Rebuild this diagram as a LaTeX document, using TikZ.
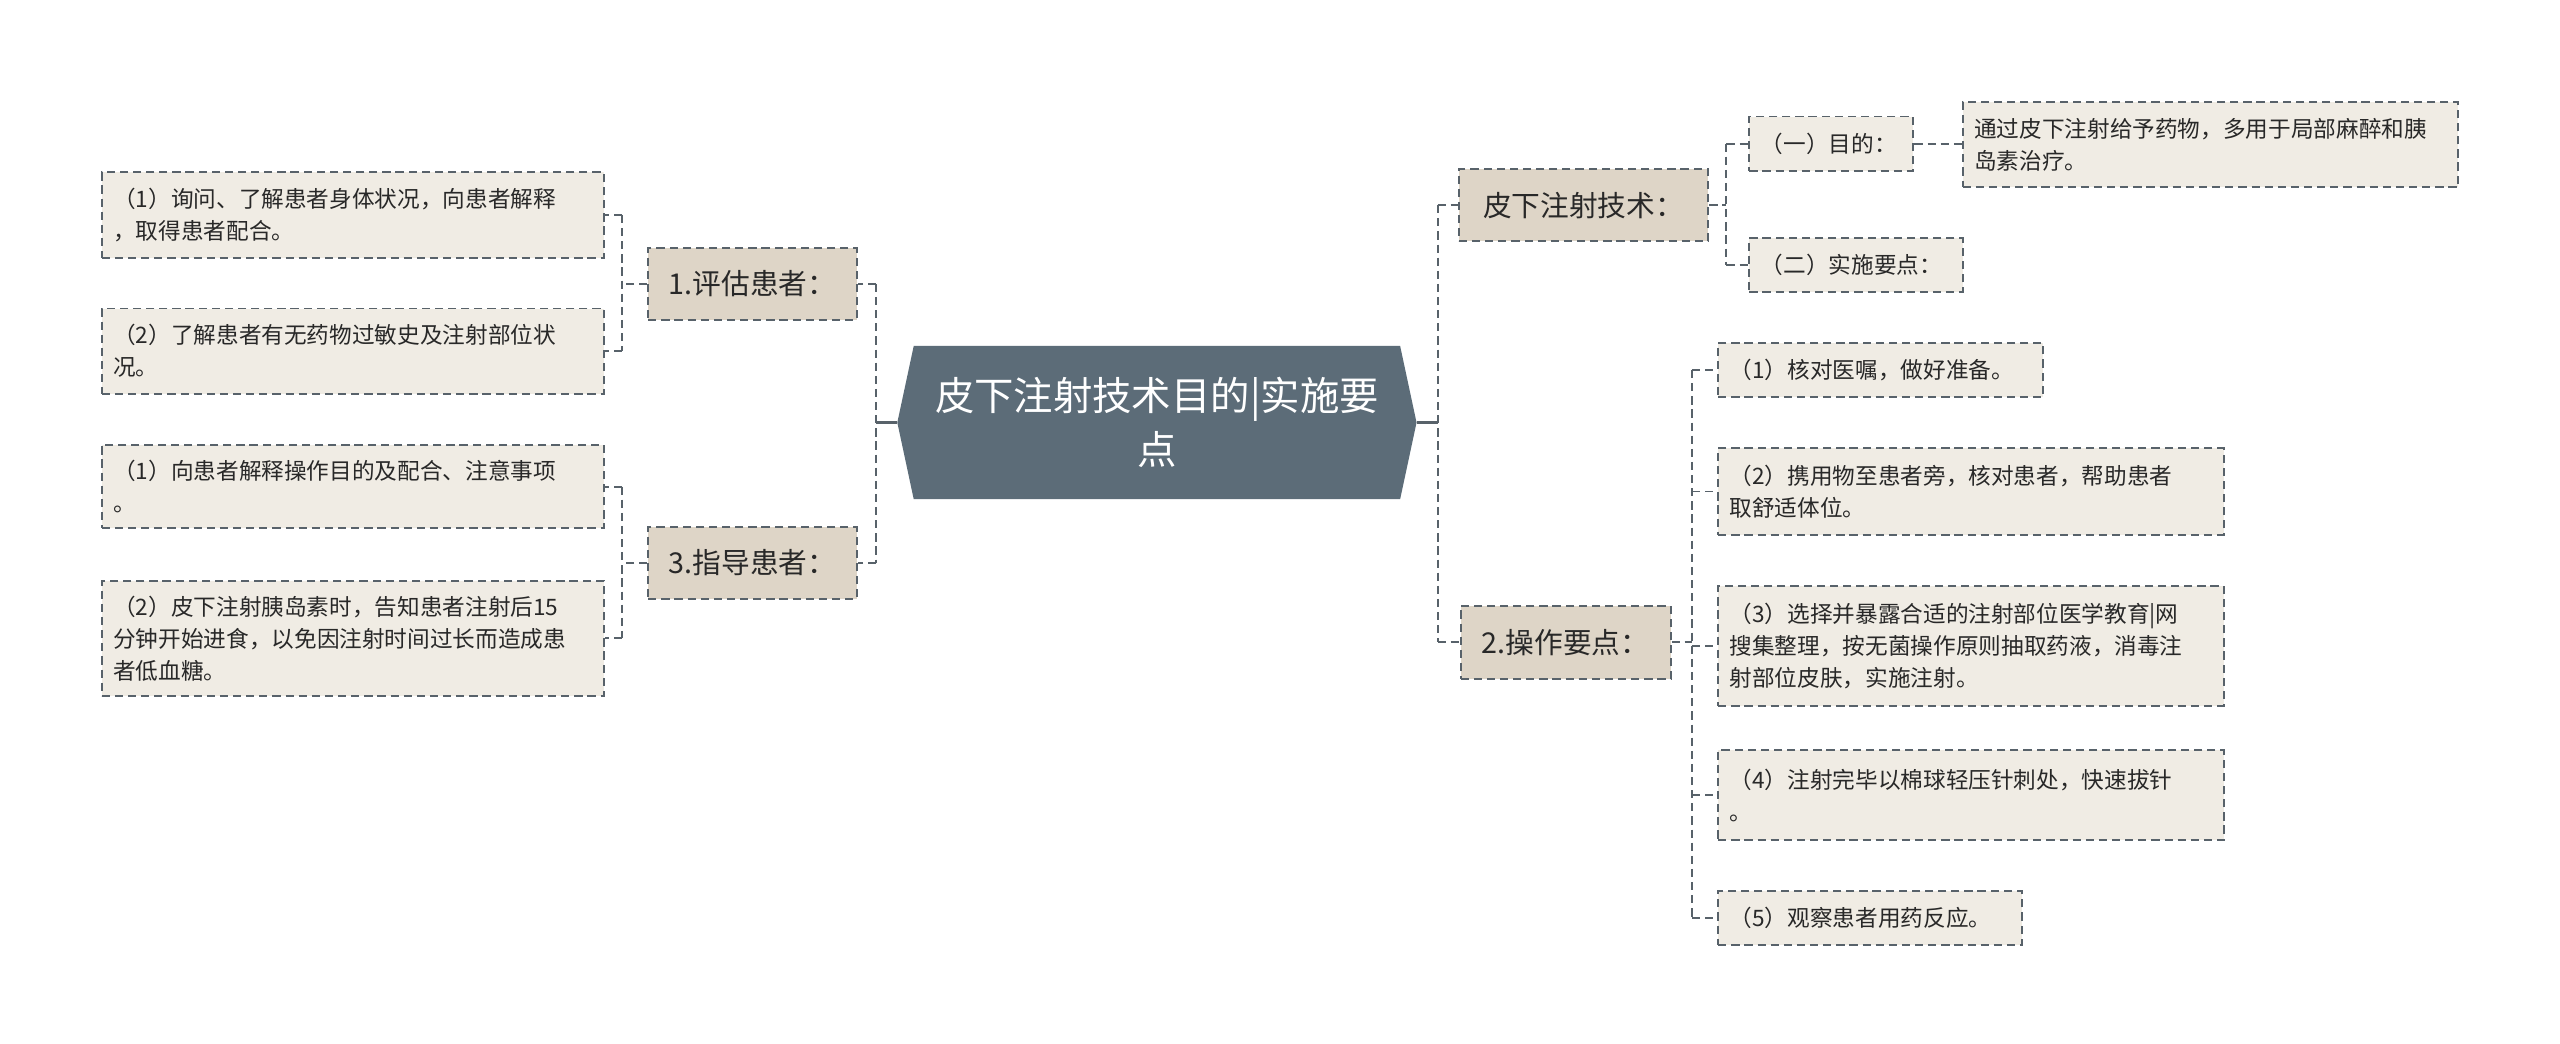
\documentclass[tikz,border=0pt]{standalone}
\usepackage{fontspec}
\setmainfont{Noto Sans CJK SC}
\usetikzlibrary{backgrounds,calc}
\definecolor{maincol}{RGB}{92,108,120}
\definecolor{lvcol}{RGB}{222,213,199}
\definecolor{leafcol}{RGB}{240,236,228}
\definecolor{linecol}{RGB}{88,98,106}
\definecolor{txtcol}{RGB}{40,40,40}
\tikzset{
  base/.style={draw=linecol, line width=1.2pt, dash pattern=on 5pt off 3pt, rectangle, text=txtcol, inner sep=0pt},
  lv/.style={base, fill=lvcol, font=\fontsize{17.5}{22}\selectfont, align=center},
  leaf/.style={base, fill=leafcol, font=\fontsize{13.8}{19.5}\selectfont, align=left, inner xsep=7pt},
  conn/.style={draw=linecol, line width=1.2pt, dash pattern=on 5pt off 3pt},
  trunk/.style={draw=linecol, line width=1.6pt},
  mainbox/.style={rectangle, inner sep=0pt, minimum width=316pt, minimum height=93pt, text=white, align=center, font=\fontsize{24}{33}\selectfont},
}
\begin{document}
\begin{tikzpicture}[x=1pt,y=-1pt]
\useasboundingbox (0,0) rectangle (1560,636);

% main node
\node[mainbox] (main) at (705,257.5) {皮下注射技术目的|实施要\\点};
\begin{pgfonlayer}{background}
\fill[white] (0,0) rectangle (1560,636);
\fill[maincol] ([xshift=10pt]main.north west) -- ([xshift=-10pt]main.north east) -- (main.east)
  -- ([xshift=-10pt]main.south east) -- ([xshift=10pt]main.south west) -- (main.west) -- cycle;
\end{pgfonlayer}

% level-1 nodes
\node[lv, minimum width=152pt, minimum height=44pt] (A) at (965,125) {皮下注射技术：};
\node[lv, minimum width=128pt, minimum height=45pt] (B) at (954,391.5) {2.操作要点：};
\node[lv, minimum width=127pt, minimum height=44pt] (C) at (458.5,173) {1.评估患者：};
\node[lv, minimum width=127pt, minimum height=44pt] (D) at (458.5,343) {3.指导患者：};

% right leaves under A
\node[leaf, text width=86pt, minimum height=33pt] (R1) at (1116,87.5) {（一）目的：};
\node[leaf, text width=288pt, minimum height=52pt] (R1a) at (1347,88) {通过皮下注射给予药物，多用于局部麻醉和胰\\岛素治疗。};
\node[leaf, text width=116pt, minimum height=33pt] (R2) at (1131,161.5) {（二）实施要点：};

% right leaves under B
\node[leaf, text width=184pt, minimum height=33pt] (S1) at (1146,225.5) {（1）核对医嘱，做好准备。};
\node[leaf, text width=294pt, minimum height=53pt] (S2) at (1201,299.5) {（2）携用物至患者旁，核对患者，帮助患者\\取舒适体位。};
\node[leaf, text width=294pt, minimum height=73pt] (S3) at (1201,393.5) {（3）选择并暴露合适的注射部位医学教育|网\\搜集整理，按无菌操作原则抽取药液，消毒注\\射部位皮肤，实施注射。};
\node[leaf, text width=294pt, minimum height=55pt] (S4) at (1201,484.5) {（4）注射完毕以棉球轻压针刺处，快速拔针\\。};
\node[leaf, text width=171pt, minimum height=33pt] (S5) at (1139.5,559.5) {（5）观察患者用药反应。};

% left leaves
\node[leaf, text width=292pt, minimum height=52pt] (L1) at (215,131) {（1）询问、了解患者身体状况，向患者解释\\，取得患者配合。};
\node[leaf, text width=292pt, minimum height=52pt] (L2) at (215,214) {（2）了解患者有无药物过敏史及注射部位状\\况。};
\node[leaf, text width=292pt, minimum height=51pt] (L3) at (215,296.5) {（1）向患者解释操作目的及配合、注意事项\\。};
\node[leaf, text width=292pt, minimum height=70pt] (L4) at (215,389) {（2）皮下注射胰岛素时，告知患者注射后15\\分钟开始进食，以免因注射时间过长而造成患\\者低血糖。};

% bracket coordinates
\coordinate (tr) at (876,257.5);
\coordinate (tl) at (534,257.5);
\coordinate (bA) at (1052,125);
\coordinate (bB) at (1031,391.5);
\coordinate (bC) at (379,173);
\coordinate (bD) at (379,343);

% main to trunks
\draw[trunk] (main.east) -- (tr);
\draw[trunk] (main.west) -- (tl);
\draw[conn] (tr |- A.west) -- (tr |- B.west);
\draw[conn] (tr |- A.west) -- (A.west);
\draw[conn] (tr |- B.west) -- (B.west);
\draw[conn] (tl |- C.east) -- (tl |- D.east);
\draw[conn] (tl |- C.east) -- (C.east);
\draw[conn] (tl |- D.east) -- (D.east);

% A bracket
\draw[conn] (A.east) -- (bA);
\draw[conn] (bA |- R1.west) -- (bA |- R2.west);
\draw[conn] (bA |- R1.west) -- (R1.west);
\draw[conn] (bA |- R2.west) -- (R2.west);
\draw[conn] (R1.east) -- (R1.east -| R1a.west);

% B bracket
\draw[conn] (B.east) -- (bB);
\draw[conn] (bB |- S1.west) -- (bB |- S5.west);
\foreach \n in {S1,S2,S3,S4,S5} { \draw[conn] (bB |- \n.west) -- (\n.west); }

% C bracket
\draw[conn] (C.west) -- (bC);
\draw[conn] (bC |- L1.east) -- (bC |- L2.east);
\draw[conn] (bC |- L1.east) -- (L1.east);
\draw[conn] (bC |- L2.east) -- (L2.east);

% D bracket
\draw[conn] (D.west) -- (bD);
\draw[conn] (bD |- L3.east) -- (bD |- L4.east);
\draw[conn] (bD |- L3.east) -- (L3.east);
\draw[conn] (bD |- L4.east) -- (L4.east);
\end{tikzpicture}
\end{document}
